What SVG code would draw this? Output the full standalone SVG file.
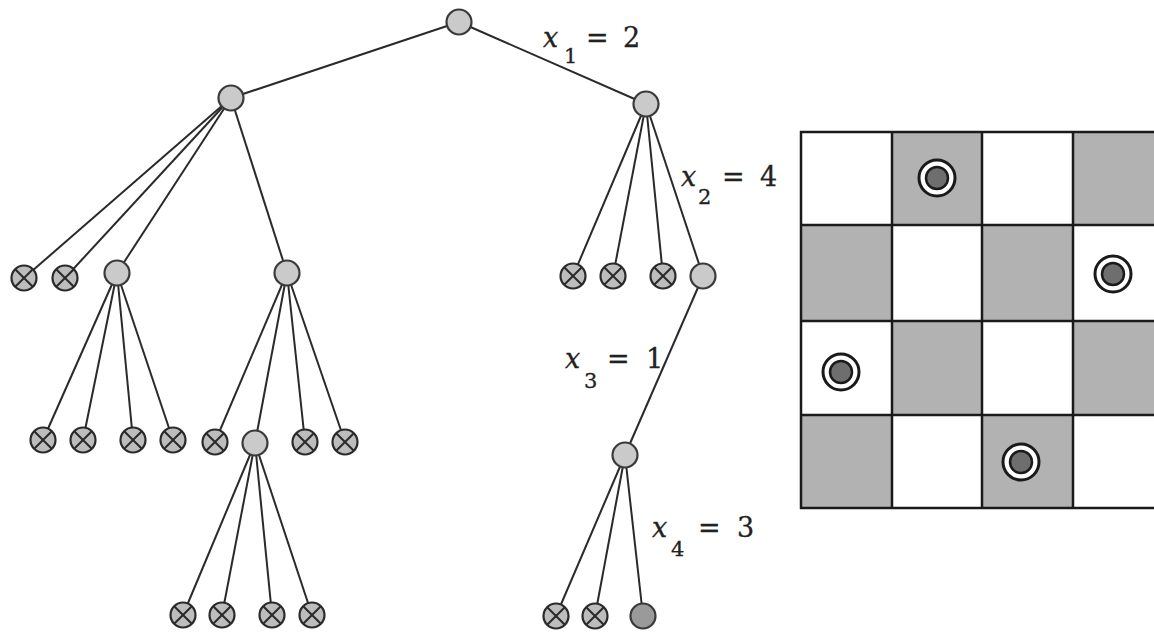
<svg xmlns="http://www.w3.org/2000/svg" width="1154" height="637" viewBox="0 0 1154 637">
<defs>
<style>
.e{stroke:#2a2a2a;stroke-width:2;fill:none}
.n{fill:#cacaca;stroke:#3a3a3a;stroke-width:2.2}
.x{fill:#bdbdbd;stroke:#2a2a2a;stroke-width:2.2}
.xl{stroke:#2a2a2a;stroke-width:2}
.g{fill:#9a9a9a;stroke:#3a3a3a;stroke-width:2.2}
.lbl{font-family:"DejaVu Serif",serif;font-size:27px;fill:#222;stroke:#222;stroke-width:0.3}
.it{font-style:italic}
.sub{font-size:21px}
.dk{fill:#b2b2b2}
.grid{stroke:#1a1a1a;stroke-width:2.5;fill:none}
</style>
<g id="xnode">
<circle class="x" cx="0" cy="0" r="12.5"/>
<line class="xl" x1="-8.8" y1="-8.8" x2="8.8" y2="8.8"/>
<line class="xl" x1="-8.8" y1="8.8" x2="8.8" y2="-8.8"/>
</g>
<g id="queen">
<circle cx="0" cy="0" r="18" fill="#fff" stroke="#1a1a1a" stroke-width="3"/>
<circle cx="0" cy="0" r="11" fill="#6e6e6e" stroke="#1a1a1a" stroke-width="2.5"/>
</g>
</defs>
<rect width="1154" height="637" fill="#fff"/>

<g id="connectors">
<line class="e" x1="459" y1="22" x2="231" y2="98"/>
<line class="e" x1="459" y1="22" x2="646" y2="104"/>
<line class="e" x1="231" y1="98" x2="24" y2="278"/>
<line class="e" x1="231" y1="98" x2="65" y2="278"/>
<line class="e" x1="231" y1="98" x2="117" y2="273"/>
<line class="e" x1="231" y1="98" x2="287" y2="273"/>
<line class="e" x1="646" y1="104" x2="573" y2="276"/>
<line class="e" x1="646" y1="104" x2="613" y2="276"/>
<line class="e" x1="646" y1="104" x2="663" y2="276"/>
<line class="e" x1="646" y1="104" x2="703" y2="276"/>
<line class="e" x1="117" y1="273" x2="43" y2="440"/>
<line class="e" x1="117" y1="273" x2="83" y2="440"/>
<line class="e" x1="117" y1="273" x2="133" y2="440"/>
<line class="e" x1="117" y1="273" x2="173" y2="440"/>
<line class="e" x1="287" y1="273" x2="215" y2="442"/>
<line class="e" x1="287" y1="273" x2="255" y2="443"/>
<line class="e" x1="287" y1="273" x2="305" y2="442"/>
<line class="e" x1="287" y1="273" x2="345" y2="442"/>
<line class="e" x1="255" y1="443" x2="183" y2="615"/>
<line class="e" x1="255" y1="443" x2="222" y2="615"/>
<line class="e" x1="255" y1="443" x2="272" y2="615"/>
<line class="e" x1="255" y1="443" x2="312" y2="615"/>
<line class="e" x1="703" y1="276" x2="625" y2="455"/>
<line class="e" x1="625" y1="455" x2="556" y2="616"/>
<line class="e" x1="625" y1="455" x2="595" y2="616"/>
<line class="e" x1="625" y1="455" x2="643" y2="616"/>
</g>

<g id="root"><circle class="n" cx="459" cy="22" r="12.5"/></g>
<g id="nA"><circle class="n" cx="231" cy="98" r="12.5"/></g>
<g id="nB"><circle class="n" cx="646" cy="104" r="12.5"/></g>
<g id="nA1"><use href="#xnode" x="24" y="278"/></g>
<g id="nA2"><use href="#xnode" x="65" y="278"/></g>
<g id="nC"><circle class="n" cx="117" cy="273" r="12.5"/></g>
<g id="nD"><circle class="n" cx="287" cy="273" r="12.5"/></g>
<g id="nB1"><use href="#xnode" x="573" y="276"/></g>
<g id="nB2"><use href="#xnode" x="613" y="276"/></g>
<g id="nB3"><use href="#xnode" x="663" y="276"/></g>
<g id="nE"><circle class="n" cx="703" cy="276" r="12.5"/></g>
<g id="nC1"><use href="#xnode" x="43" y="440"/></g>
<g id="nC2"><use href="#xnode" x="83" y="440"/></g>
<g id="nC3"><use href="#xnode" x="133" y="440"/></g>
<g id="nC4"><use href="#xnode" x="173" y="440"/></g>
<g id="nD1"><use href="#xnode" x="215" y="442"/></g>
<g id="nF"><circle class="n" cx="255" cy="443" r="12.5"/></g>
<g id="nD3"><use href="#xnode" x="305" y="442"/></g>
<g id="nD4"><use href="#xnode" x="345" y="442"/></g>
<g id="nF1"><use href="#xnode" x="183" y="615"/></g>
<g id="nF2"><use href="#xnode" x="222" y="615"/></g>
<g id="nF3"><use href="#xnode" x="272" y="615"/></g>
<g id="nF4"><use href="#xnode" x="312" y="615"/></g>
<g id="nG"><circle class="n" cx="625" cy="455" r="12.5"/></g>
<g id="nG1"><use href="#xnode" x="556" y="616"/></g>
<g id="nG2"><use href="#xnode" x="595" y="616"/></g>
<g id="nGoal"><circle class="g" cx="643" cy="616" r="12.5"/></g>

<g id="labels">
<text class="lbl"><tspan class="it" x="543" y="47">x</tspan><tspan class="sub" x="564" y="63">1</tspan><tspan x="586" y="47">=</tspan><tspan x="623" y="47">2</tspan></text>
<text class="lbl"><tspan class="it" x="681" y="186">x</tspan><tspan class="sub" x="698" y="204">2</tspan><tspan x="722" y="186">=</tspan><tspan x="760" y="186">4</tspan></text>
<text class="lbl"><tspan class="it" x="565" y="368">x</tspan><tspan class="sub" x="584" y="388">3</tspan><tspan x="607" y="368">=</tspan><tspan x="646" y="368">1</tspan></text>
<text class="lbl"><tspan class="it" x="652" y="537">x</tspan><tspan class="sub" x="671" y="556">4</tspan><tspan x="698" y="537">=</tspan><tspan x="737" y="537">3</tspan></text>
</g>

<g id="board">
<rect class="dk" x="892" y="132" width="90" height="93"/>
<rect class="dk" x="1073" y="132" width="91" height="93"/>
<rect class="dk" x="801" y="225" width="91" height="96"/>
<rect class="dk" x="982" y="225" width="91" height="96"/>
<rect class="dk" x="892" y="321" width="90" height="94"/>
<rect class="dk" x="1073" y="321" width="91" height="94"/>
<rect class="dk" x="801" y="415" width="91" height="93"/>
<rect class="dk" x="982" y="415" width="91" height="93"/>
<rect class="grid" x="801" y="132" width="380" height="376"/>
<line class="grid" x1="892" y1="132" x2="892" y2="508"/>
<line class="grid" x1="982" y1="132" x2="982" y2="508"/>
<line class="grid" x1="1073" y1="132" x2="1073" y2="508"/>
<line class="grid" x1="801" y1="225" x2="1154" y2="225"/>
<line class="grid" x1="801" y1="321" x2="1154" y2="321"/>
<line class="grid" x1="801" y1="415" x2="1154" y2="415"/>
<use href="#queen" x="937" y="178"/>
<use href="#queen" x="1113" y="274"/>
<use href="#queen" x="841" y="372"/>
<use href="#queen" x="1021" y="462"/>
</g>
</svg>
